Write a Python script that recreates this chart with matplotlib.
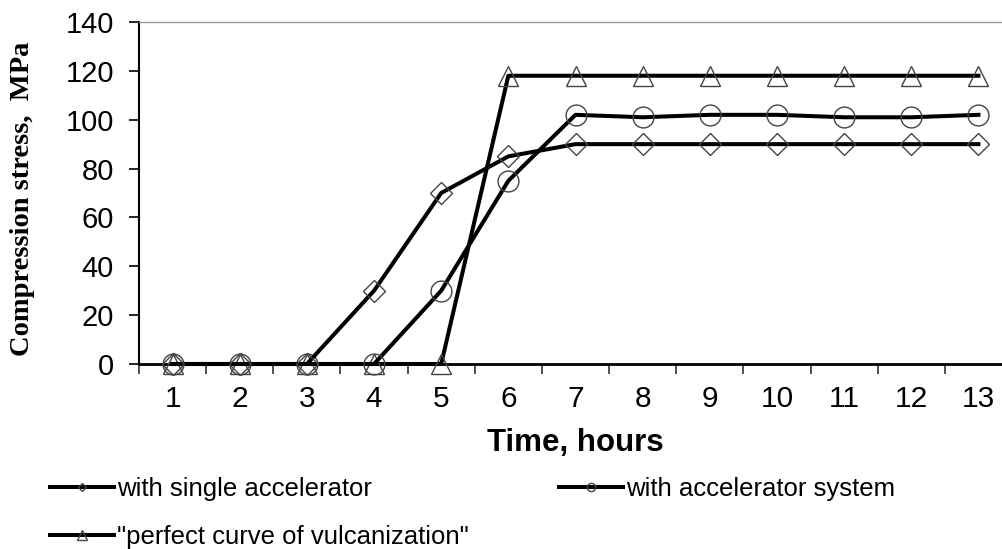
import matplotlib
matplotlib.use("Agg")
import matplotlib.pyplot as plt
from matplotlib.lines import Line2D
from matplotlib.ticker import FixedLocator

# data
hours = [1, 2, 3, 4, 5, 6, 7, 8, 9, 10, 11, 12, 13]
single_acc = [0, 0, 0, 30, 70, 85, 90, 90, 90, 90, 90, 90, 90]
acc_system = [0, 0, 0, 0, 30, 75, 102, 101, 102, 102, 101, 101, 102]
perfect = [0, 0, 0, 0, 0, 118, 118, 118, 118, 118, 118, 118, 118]
labels = ["with single accelerator", "with accelerator system",
          '"perfect curve of vulcanization"']

plt.rcParams['font.family'] = ['Liberation Sans', 'DejaVu Sans']

fig = plt.figure(figsize=(10.02, 5.49), dpi=100)
ax = fig.add_axes([139/1002, 1-364/549, 873/1002, 342/549])

mk = dict(mfc='none', mec='#444444', mew=1.0, clip_on=False)
ax.plot(hours, perfect, color='black', lw=2.9, marker='^', ms=15, zorder=3, **mk)
ax.plot(hours, acc_system, color='black', lw=2.9, marker='o', ms=15, zorder=3, **mk)
ax.plot(hours, single_acc, color='black', lw=2.9, marker='D', ms=11, zorder=3, **mk)

ax.set_xlim(0.5, 13.5)
ax.set_ylim(0, 140)
ax.set_yticks(range(0, 141, 20))
ax.set_xticks(hours)
ax.xaxis.set_minor_locator(FixedLocator([h - 0.5 for h in hours]))
ax.tick_params(axis='x', which='major', length=0, labelsize=21.5, pad=15)
ax.tick_params(axis='x', which='minor', length=7, width=1.2, direction='out', color='#333333')
ax.tick_params(axis='y', length=7, width=1.2, direction='out', labelsize=21, pad=11)

ax.spines['top'].set_color('#999999')
ax.spines['top'].set_linewidth(1.0)
ax.spines['left'].set_linewidth(1.5)
ax.spines['bottom'].set_linewidth(2.0)
ax.spines['right'].set_visible(False)

ax.set_xlabel('Time, hours', fontsize=22.5, fontweight='bold', labelpad=11)
ax.set_ylabel('Compression stress,  MPa', fontsize=20.5, fontweight='bold',
              family=['Liberation Serif', 'DejaVu Serif'])
ax.yaxis.set_label_coords(-0.119, 0.482)

hk = dict(color='black', lw=2.9, mfc='none', mec='#444444', mew=1.0)
handles = [Line2D([], [], marker='D', ms=4, **hk),
           Line2D([], [], marker='^', ms=7, **hk),
           Line2D([], [], marker='o', ms=6, **hk)]
fig.legend(handles, [labels[0], labels[2], labels[1]], loc='upper left',
           bbox_to_anchor=(0.05, 0.131), ncol=2, frameon=False,
           borderpad=0, borderaxespad=0, handlelength=2.5, handletextpad=0.12,
           columnspacing=3.5, labelspacing=0.93, fontsize=18.5)

fig.savefig('out.png', dpi=100)
